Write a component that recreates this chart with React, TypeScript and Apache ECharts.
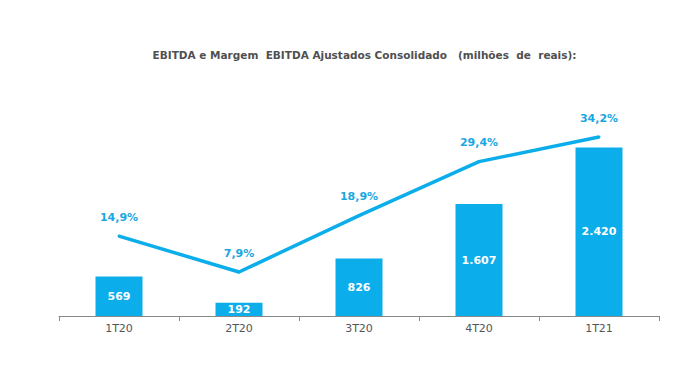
import React, { useEffect, useRef } from "react";
import * as echarts from "echarts";

const categories = ["1T20", "2T20", "3T20", "4T20", "1T21"];
const ebitda = [569, 192, 826, 1607, 2420];
const ebitdaLabels = ["569", "192", "826", "1.607", "2.420"];
const margin = [14.9, 7.9, 18.9, 29.4, 34.2];
const titleText = "EBITDA e Margem  EBITDA Ajustados Consolidado   (milhões  de  reais):";

const BLUE = "#0BADEA";
const FONT = "DejaVu Sans";

export default function App() {
  const ref = useRef<HTMLDivElement>(null);
  useEffect(() => {
    if (!ref.current) return;
    const chart = echarts.init(ref.current, undefined, { renderer: "svg" });
    chart.setOption({
      animation: false,
      backgroundColor: "#ffffff",
      graphic: [
        {
          type: "text",
          x: 364.5,
          y: 55,
          style: {
            text: titleText,
            fontFamily: FONT,
            fontSize: 10.5,
            fontWeight: "bold",
            fill: "#505050",
            textAlign: "center",
            textVerticalAlign: "middle",
          },
        },
      ],
      grid: { left: 59, right: 41, top: 96, bottom: 59 },
      xAxis: {
        type: "category",
        data: categories,
        axisLine: { lineStyle: { color: "#8a8a8a", width: 1 } },
        axisTick: { show: true, length: 5, lineStyle: { color: "#8a8a8a" } },
        axisLabel: { color: "#555555", fontFamily: FONT, fontSize: 11, margin: 7 },
      },
      yAxis: [
        { type: "value", min: 0, max: 3160, show: false, splitLine: { show: false } },
        { type: "value", min: -0.67, max: 42.19, show: false, splitLine: { show: false } },
      ],
      series: [
        {
          type: "bar",
          yAxisIndex: 0,
          data: ebitda,
          barWidth: 47,
          itemStyle: { color: BLUE },
          label: {
            show: true,
            position: "inside",
            color: "#ffffff",
            fontFamily: FONT,
            fontWeight: "bold",
            fontSize: 11,
            formatter: (p: any) => ebitdaLabels[p.dataIndex],
          },
        },
        {
          type: "line",
          yAxisIndex: 1,
          data: margin,
          showSymbol: true,
          showAllSymbol: true,
          symbol: "circle",
          symbolSize: 3,
          itemStyle: { color: BLUE, borderWidth: 0 },
          lineStyle: { color: BLUE, width: 3.5 },
          label: {
            show: true,
            position: "top",
            distance: 12,
            color: "#1AA7E0",
            fontFamily: FONT,
            fontWeight: "bold",
            fontSize: 11,
            formatter: (p: any) => margin[p.dataIndex].toFixed(1).replace(".", ",") + "%",
          },
        },
      ],
    });
    return () => chart.dispose();
  }, []);
  return (
    <div
      ref={ref}
      style={{ position: "absolute", left: 0, top: 0, width: 700, height: 375 }}
    />
  );
}
